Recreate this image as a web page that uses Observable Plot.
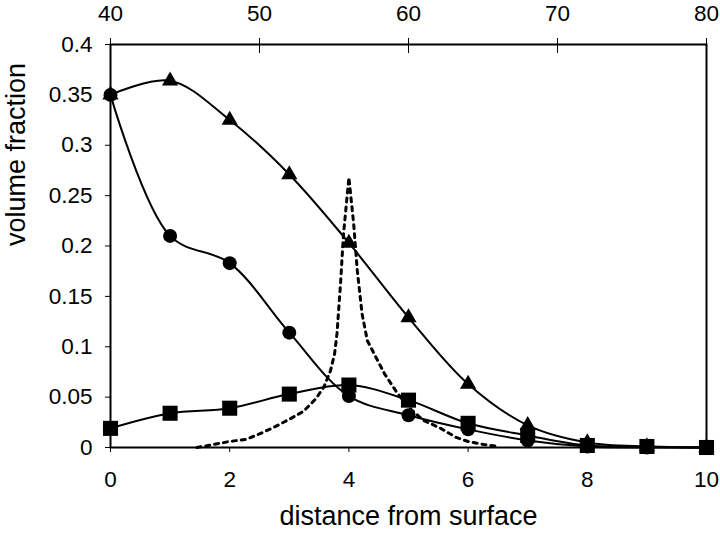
<!DOCTYPE html>
<html>
<head>
<meta charset="utf-8">
<script src="https://cdn.jsdelivr.net/npm/d3@7"></script>
<script src="https://cdn.jsdelivr.net/npm/@observablehq/plot@0.6"></script>
<style>
  html, body { margin: 0; padding: 0; background: #fff; }
  #chart { width: 720px; height: 533px; }
  #chart svg text { font-family: 'Liberation Sans', Arial, sans-serif; fill: #000; }
</style>
</head>
<body>
<div id="chart"></div>
<script>
// ---- data ----
const distance = [0, 1, 2, 3, 4, 5, 6, 7, 8, 9, 10];
const triangleSeries = [0.35, 0.364, 0.325, 0.271, 0.203, 0.129, 0.063, 0.022, 0.005, 0.001, 0];
const circleSeries   = [0.35, 0.21, 0.183, 0.114, 0.051, 0.032, 0.018, 0.007, 0.001, 0, 0];
const squareSeries   = [0.019, 0.034, 0.039, 0.053, 0.062, 0.047, 0.024, 0.012, 0.002, 0.001, 0];
const dashedX = [1.45, 1.73, 2.0, 2.27, 2.52, 2.74, 3.0, 3.24, 3.44, 3.58, 3.69, 3.76, 3.8, 3.86, 3.91, 4.0, 4.08, 4.14, 4.22, 4.31, 4.45, 4.6, 4.8, 5.0, 5.25, 5.54, 5.8, 6.0, 6.26, 6.5];
const dashedY = [0, 0.003, 0.006, 0.008, 0.014, 0.02, 0.028, 0.036, 0.048, 0.06, 0.076, 0.093, 0.113, 0.163, 0.212, 0.268, 0.222, 0.176, 0.133, 0.106, 0.09, 0.073, 0.055, 0.04, 0.027, 0.019, 0.01, 0.006, 0.003, 0.001];
const bottomTicks = [0, 2, 4, 6, 8, 10];
const yTicks = [0, 0.05, 0.1, 0.15, 0.2, 0.25, 0.3, 0.35, 0.4];
const topTickLabels = [40, 50, 60, 70, 80];
const xLabel = "distance from surface";
const yLabel = "volume fraction";

// ---- build ----
const mk = (ys) => distance.map((d, i) => ({x: d, y: ys[i]}));
const tri = mk(triangleSeries), cir = mk(circleSeries), sq = mk(squareSeries);
const dash = dashedX.map((d, i) => ({x: d, y: dashedY[i]}));
const topScale = d3.scaleLinear([40, 80], [0, 10]);
const topPos = topTickLabels.map(v => topScale(v));

const font = "'Liberation Sans', Arial, sans-serif";
const tickFont = 22.5;
const labelFont = 27;

const chart = Plot.plot({
  width: 720,
  height: 533,
  marginLeft: 110,
  marginRight: 14,
  marginTop: 44,
  marginBottom: 86,
  style: {fontFamily: font, color: "#000", background: "#fff"},
  x: {domain: [0, 10]},
  y: {domain: [0, 0.4]},
  marks: [
    // tick marks only (labels drawn as text marks below)
    Plot.axisY({ticks: yTicks, tickFormat: () => "", tickSize: 5, label: null}),
    Plot.axisX({ticks: bottomTicks, tickFormat: () => "", tickSize: 5, label: null}),
    Plot.axisX({anchor: "top", ticks: topPos, tickFormat: () => "", tickSize: 7, label: null}),
    Plot.ruleX(topPos, {x: d => d, y1: 0.4, y2: 0.4, insetBottom: -9, stroke: "#000", strokeWidth: 1}),
    // tick labels
    Plot.text(yTicks, {x: 0, y: d => d, text: d => String(d), textAnchor: "end", dx: -18, lineAnchor: "middle", fontSize: tickFont}),
    Plot.text(bottomTicks, {x: d => d, y: 0, text: d => String(d), dy: 32, lineAnchor: "middle", fontSize: tickFont}),
    Plot.text(topPos, {x: d => d, y: 0.4, text: (d, i) => String(topTickLabels[i]), dy: -31, lineAnchor: "middle", fontSize: tickFont}),
    // axis titles
    Plot.text([xLabel], {frameAnchor: "bottom", dy: 69, lineAnchor: "middle", fontSize: labelFont}),
    Plot.text([yLabel], {frameAnchor: "left", dx: -94, rotate: -90, lineAnchor: "middle", fontSize: labelFont}),
    Plot.frame({stroke: "#000", strokeWidth: 2}),
    Plot.line(dash, {x: "x", y: "y", stroke: "#000", strokeWidth: 3, strokeDasharray: "4,5"}),
    Plot.line(tri, {x: "x", y: "y", stroke: "#000", strokeWidth: 2, curve: "catmull-rom"}),
    Plot.line(cir, {x: "x", y: "y", stroke: "#000", strokeWidth: 2, curve: "catmull-rom"}),
    Plot.line(sq, {x: "x", y: "y", stroke: "#000", strokeWidth: 2, curve: "catmull-rom"}),
    Plot.dot(tri, {x: "x", y: "y", symbol: "triangle", r: 6, fill: "#000"}),
    Plot.dot(cir, {x: "x", y: "y", symbol: "circle", r: 7, fill: "#000"}),
    Plot.dot(sq, {x: "x", y: "y", symbol: "square", r: 8.5, fill: "#000"})
  ]
});
document.getElementById("chart").appendChild(chart);
</script>
</body>
</html>
